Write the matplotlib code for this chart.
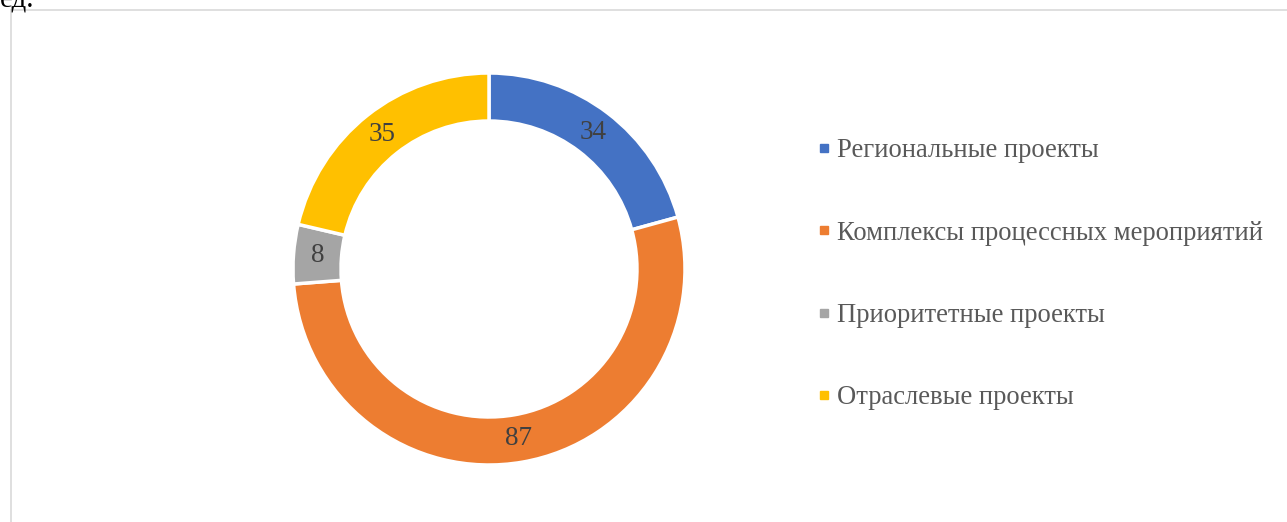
import matplotlib.pyplot as plt
from matplotlib.patches import Rectangle
from matplotlib.lines import Line2D

plt.rcParams['font.family'] = ['Liberation Serif', 'DejaVu Serif']

labels = ['Региональные проекты', 'Комплексы процессных мероприятий',
          'Приоритетные проекты', 'Отраслевые проекты']
values = [34, 87, 8, 35]
colors = ['#4472c4', '#ed7d31', '#a5a5a5', '#ffc000']

W, H = 1287, 522
fig = plt.figure(figsize=(W / 100, H / 100), dpi=100)

# chart frame
fig.add_artist(Rectangle((11 / W, -0.1), 1.2, 1 - 10 / H + 0.1, transform=fig.transFigure,
                         fill=False, edgecolor='#d9d9d9', linewidth=1.2))
fig.text(0.0, 1 - 7 / H, 'ед.', fontsize=21, va='baseline', ha='left', color='black')

cx, cy, r = 489, 269, 196
ax = fig.add_axes([(cx - r) / W, (H - cy - r) / H, 2 * r / W, 2 * r / H])
wedges, texts = ax.pie(values, colors=colors, startangle=90, counterclock=False,
                       radius=1.0, labels=[str(v) for v in values], labeldistance=0.877,
                       wedgeprops=dict(width=0.245, edgecolor='white', linewidth=2.5),
                       textprops=dict(fontsize=19.5, color='#404040'))
for t in texts:
    t.set_ha('center')
    t.set_va('center')
ax.set_xlim(-1, 1)
ax.set_ylim(-1, 1)
ax.set_aspect('equal')
ax.axis('off')

handles = [Line2D([], [], marker='s', linestyle='none', markersize=5.5,
                  markerfacecolor=c, markeredgecolor=c) for c in colors]
fig.legend(handles, labels, loc='upper left', bbox_to_anchor=(805 / W, 1 - 125 / H),
           frameon=False, fontsize=19.2, labelspacing=2.15, handlelength=0.45,
           handletextpad=0.25, labelcolor='#595959', borderpad=0)

fig.savefig('out.png', dpi=100)
